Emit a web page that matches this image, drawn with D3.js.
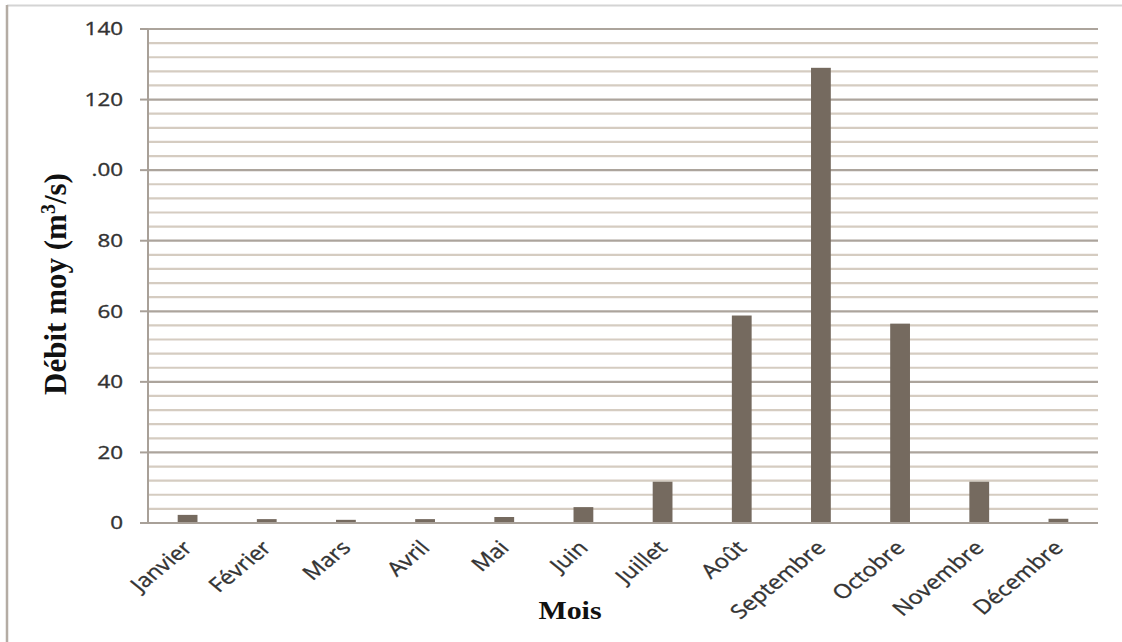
<!DOCTYPE html>
<html><head><meta charset="utf-8">
<script src="https://cdn.jsdelivr.net/npm/d3@7/dist/d3.min.js"></script>
<style>html,body{margin:0;padding:0;background:#fff;}svg{display:block;}</style>
</head><body>
<svg id="c" width="1122" height="642"></svg>
<script>
const months = ["Janvier","Février","Mars","Avril","Mai","Juin","Juillet","Août","Septembre","Octobre","Novembre","Décembre"];
const debit = [2.3, 1.1, 0.9, 1.1, 1.7, 4.5, 11.7, 58.8, 129.0, 56.5, 11.7, 1.2];
const yTicks = [0, 20, 40, 60, 80, 100, 120, 140];
const yTickLabels = ["0", "20", "40", "60", "80", ".00", "120", "140"];
const minorStep = 4;

(function () {
const svg = d3.select("#c");
const W = 1122, H = 642;
const pL = 148, pR = 1098, pT = 29, pB = 523;
const sx = 1.28, sxl = 1.22;

// frame
svg.append("line").attr("x1",7).attr("x2",W).attr("y1",5.5).attr("y2",5.5)
  .attr("stroke","#d4d4d4").attr("stroke-width",2);
svg.append("line").attr("x1",7).attr("x2",7).attr("y1",5).attr("y2",H)
  .attr("stroke","#b4aca4").attr("stroke-width",2.5);

const x = d3.scaleBand().domain(months).range([pL, pR]).padding(0);
const y = d3.scaleLinear().domain([0, 140]).range([pB, pT]);

// gridlines
const grid = d3.range(minorStep, 140 + 0.001, minorStep);
svg.append("g").selectAll("line").data(grid).join("line")
  .attr("x1", pL).attr("x2", pR)
  .attr("y1", d => y(d)).attr("y2", d => y(d))
  .attr("stroke", d => d % 20 === 0 ? "#aca49c" : "#d5ccc1")
  .attr("stroke-width", 2.2);

// bars
const bw = x.bandwidth();
svg.append("g").selectAll("rect").data(months).join("rect")
  .attr("x", (m) => x(m) + bw * 0.375)
  .attr("width", bw * 0.25)
  .attr("y", (m, i) => y(debit[i]))
  .attr("height", (m, i) => y(0) - y(debit[i]))
  .attr("fill", "#756a5f");

// axes lines
svg.append("line").attr("x1", pL).attr("x2", pR).attr("y1", y(0)).attr("y2", y(0))
  .attr("stroke", "#a8a098").attr("stroke-width", 2);
svg.append("line").attr("x1", pL).attr("x2", pL).attr("y1", y(0)).attr("y2", y(140))
  .attr("stroke", "#a8a098").attr("stroke-width", 2);
svg.append("g").selectAll("line").data(yTicks).join("line")
  .attr("x1", pL - 8).attr("x2", pL).attr("y1", d => y(d)).attr("y2", d => y(d))
  .attr("stroke", "#a8a098").attr("stroke-width", 2);

// y tick labels
svg.append("g").selectAll("text").data(yTicks).join("text")
  .attr("transform", d => `translate(123,${y(d)}) scale(${sx},1)`)
  .attr("text-anchor", "end").attr("dy", "0.36em")
  .attr("font-family", "Open Sans").attr("font-size", 17.5)
  .attr("fill", "#333").attr("stroke", "#333").attr("stroke-width", 0.35)
  .text((d, i) => yTickLabels[i]);

// x tick labels
svg.append("g").selectAll("text").data(months).join("text")
  .attr("transform", m => `translate(${x(m) + bw / 2 + 6},${pB + 26}) scale(${sxl},1) rotate(-45)`)
  .attr("text-anchor", "end")
  .attr("font-family", "Open Sans").attr("font-size", 19.5)
  .attr("fill", "#333").attr("stroke", "#333").attr("stroke-width", 0.35)
  .text(m => m);

// axis titles
const yt = svg.append("text")
  .attr("transform", "translate(66,284) rotate(-90)")
  .attr("text-anchor", "middle")
  .attr("font-family", "Liberation Serif").attr("font-weight", "bold")
  .attr("font-size", 31).attr("fill", "#111");
yt.append("tspan").text("Débit moy (m");
yt.append("tspan").attr("baseline-shift", "super").attr("font-size", 20).text("3");
yt.append("tspan").text("/s)");

svg.append("text")
  .attr("transform", `translate(570,619) scale(1.15,1)`)
  .attr("text-anchor", "middle")
  .attr("font-family", "Liberation Serif").attr("font-weight", "bold")
  .attr("font-size", 26).attr("fill", "#111")
  .text("Mois");
})();
</script>
</body></html>
